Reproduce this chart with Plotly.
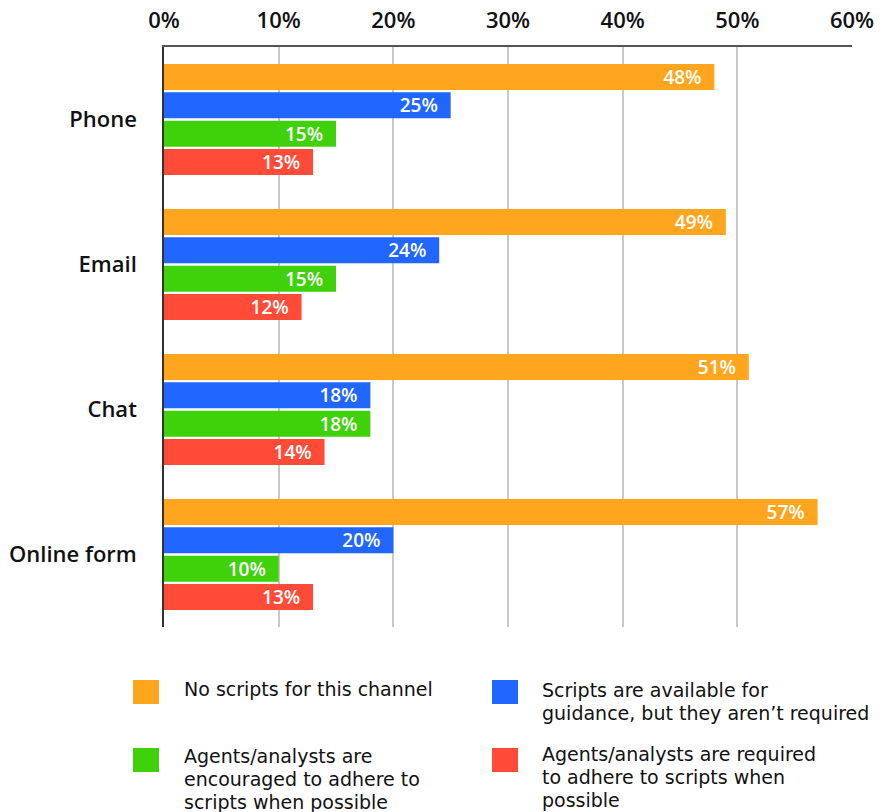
import plotly.graph_objects as go

channels = ["Phone", "Email", "Chat", "Online form"]
series_names = [
    "No scripts for this channel",
    "Scripts are available for<br>guidance, but they aren’t required",
    "Agents/analysts are<br>encouraged to adhere to<br>scripts when possible",
    "Agents/analysts are required<br>to adhere to scripts when<br>possible",
]
no_scripts = [48, 49, 51, 57]
available = [25, 24, 18, 20]
encouraged = [15, 15, 18, 10]
required = [13, 12, 14, 13]
x_ticks = [0, 10, 20, 30, 40, 50, 60]
x_tick_labels = ["0%", "10%", "20%", "30%", "40%", "50%", "60%"]

colors = ["#FFA51E", "#2166FF", "#3FD10A", "#FF4B37"]
LABEL_FONT = "Open Sans"
BODY_FONT = "DejaVu Sans"

W, H = 882, 812
ML, MR, MT, MB = 164, 30, 47, 185
PW, PH = W - ML - MR, H - MT - MB

fig = go.Figure()
for name, vals, col in zip(series_names, [no_scripts, available, encouraged, required], colors):
    fig.add_trace(go.Bar(
        y=channels, x=vals, name=name, orientation="h",
        marker=dict(color=col, line=dict(width=0)),
        text=[f"{v}%\u00a0\u00a0" for v in vals], textposition="inside",
        insidetextanchor="end", constraintext="none",
        textfont=dict(family=LABEL_FONT, size=19, color="white", weight=600),
        cliponaxis=False, showlegend=False,
    ))

fig.update_layout(
    width=W, height=H,
    margin=dict(l=ML, r=MR, t=MT, b=MB, autoexpand=False),
    paper_bgcolor="white", plot_bgcolor="white",
    barmode="group", bargap=0.22, bargroupgap=0.08,
    font=dict(family=LABEL_FONT, color="#111111"),
    xaxis=dict(
        range=[0, 60], side="top", tickvals=x_ticks, ticktext=x_tick_labels,
        tickfont=dict(family=LABEL_FONT, size=22, color="#111111", weight=600),
        showgrid=True, gridcolor="#C8C8C8", gridwidth=1.5,
        showline=True, linecolor="#555555", linewidth=1.5,
        zeroline=False, ticks="", ticklabelstandoff=8, automargin=False,
        fixedrange=True,
    ),
    yaxis=dict(
        autorange="reversed", showline=True, linecolor="#333333", linewidth=1.5,
        tickfont=dict(family=LABEL_FONT, size=22, color="#111111", weight=600),
        ticks="", ticklabelstandoff=21, showgrid=False, automargin=False,
        fixedrange=True,
    ),
)

def px_to_paper(px, py):
    return (px - ML) / PW, (H - MB - py) / PH

# Legend drawn as two columns of swatches with wrapped text
LINE_GAP = 23
legend_swatch = [(133, 680), (492, 680), (133, 748), (492, 748)]
legend_first_line = [(183, 689), (541, 690), (183, 756), (541, 754)]
for (sx, sy), (tx, ty), name, col in zip(legend_swatch, legend_first_line, series_names, colors):
    x0, y1 = px_to_paper(sx, sy)
    x1, y0 = px_to_paper(sx + 26, sy + 24)
    fig.add_shape(type="rect", xref="paper", yref="paper",
                  x0=x0, x1=x1, y0=y0, y1=y1,
                  fillcolor=col, line=dict(width=0))
    for i, line in enumerate(name.split("<br>")):
        ax, ay = px_to_paper(tx, ty + i * LINE_GAP)
        fig.add_annotation(
            xref="paper", yref="paper", x=ax, y=ay,
            xanchor="left", yanchor="middle", align="left", showarrow=False,
            text=line, borderpad=0,
            font=dict(family=BODY_FONT, size=19, color="#111111"),
        )

fig.write_html("out.html")
